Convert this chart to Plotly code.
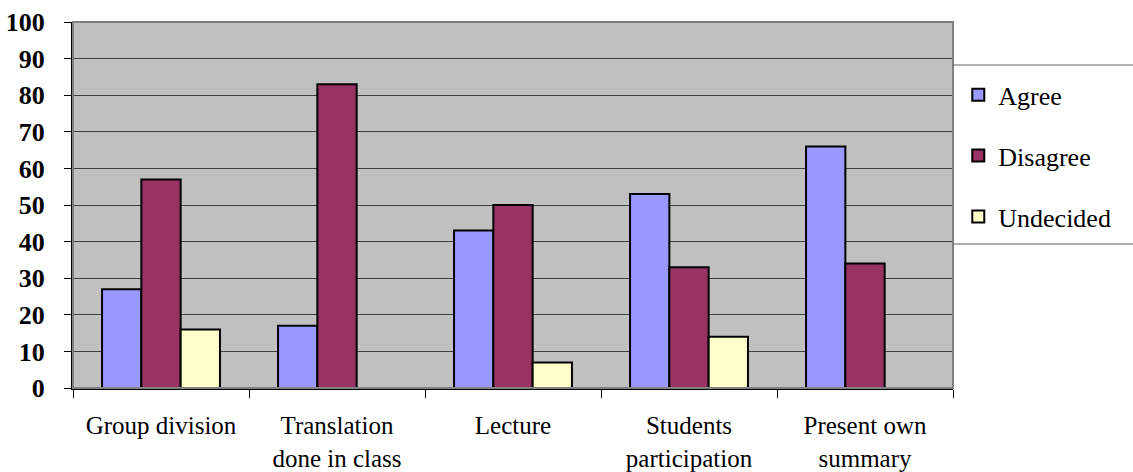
import plotly.graph_objects as go

categories = ["Group division", "Translation<br>done in class", "Lecture",
              "Students<br>participation", "Present own<br>summary"]
agree = [27, 17, 43, 53, 66]
disagree = [57, 83, 50, 33, 34]
undecided = [16, None, 7, 14, None]
y_ticks = list(range(0, 101, 10))

series = [
    ("Agree", agree, "#9999FF"),
    ("Disagree", disagree, "#993366"),
    ("Undecided", undecided, "#FFFFCC"),
]

FONT = "Liberation Serif"

fig = go.Figure()
for name, vals, color in series:
    fig.add_trace(go.Bar(
        x=categories, y=vals, name=name,
        marker=dict(color=color, line=dict(color="#000000", width=2)),
        legendgroup=name,
    ))

fig.update_layout(
    width=1133, height=472,
    margin=dict(l=73, r=180, t=22, b=84),
    paper_bgcolor="#FFFFFF",
    plot_bgcolor="#C0C0C0",
    barmode="group",
    bargap=0.33,
    bargroupgap=0,
    font=dict(family=FONT, size=26, color="#000000"),
    showlegend=True,
    legend=dict(
        x=1.006, xanchor="left", y=0.865, yanchor="top",
        bgcolor="rgba(0,0,0,0)",
        font=dict(family=FONT, size=26, color="#000000"),
        tracegroupgap=24,
        itemwidth=30,
    ),
    xaxis=dict(
        type="category",
        automargin=False,
        tickson="boundaries",
        ticks="outside", ticklen=8, tickcolor="#000000", tickwidth=1,
        showline=True, linecolor="#000000", linewidth=2,
        showgrid=False,
        tickfont=dict(family=FONT, size=25),
        ticklabelstandoff=14,
    ),
    yaxis=dict(
        range=[0, 100],
        automargin=False,
        tickvals=y_ticks,
        ticks="outside", ticklen=7, tickcolor="#000000", tickwidth=1,
        showline=True, linecolor="#000000", linewidth=2,
        showgrid=True, gridcolor="#404040", gridwidth=1,
        zeroline=False,
        tickfont=dict(family=FONT, size=26, weight="bold"),
        ticklabelstandoff=14,
    ),
    shapes=[
        # plot area frame (top and right edges)
        dict(type="rect", xref="paper", yref="paper", x0=0, x1=1, y0=0, y1=1,
             line=dict(color="#808080", width=2), layer="above"),
        # legend box lines
        dict(type="line", xref="paper", yref="paper", x0=1.0, x1=1.21,
             y0=0.8825, y1=0.8825, line=dict(color="#606060", width=1)),
        dict(type="line", xref="paper", yref="paper", x0=1.0, x1=1.21,
             y0=0.3934, y1=0.3934, line=dict(color="#606060", width=1)),
    ],
)

fig.write_html("out.html")
